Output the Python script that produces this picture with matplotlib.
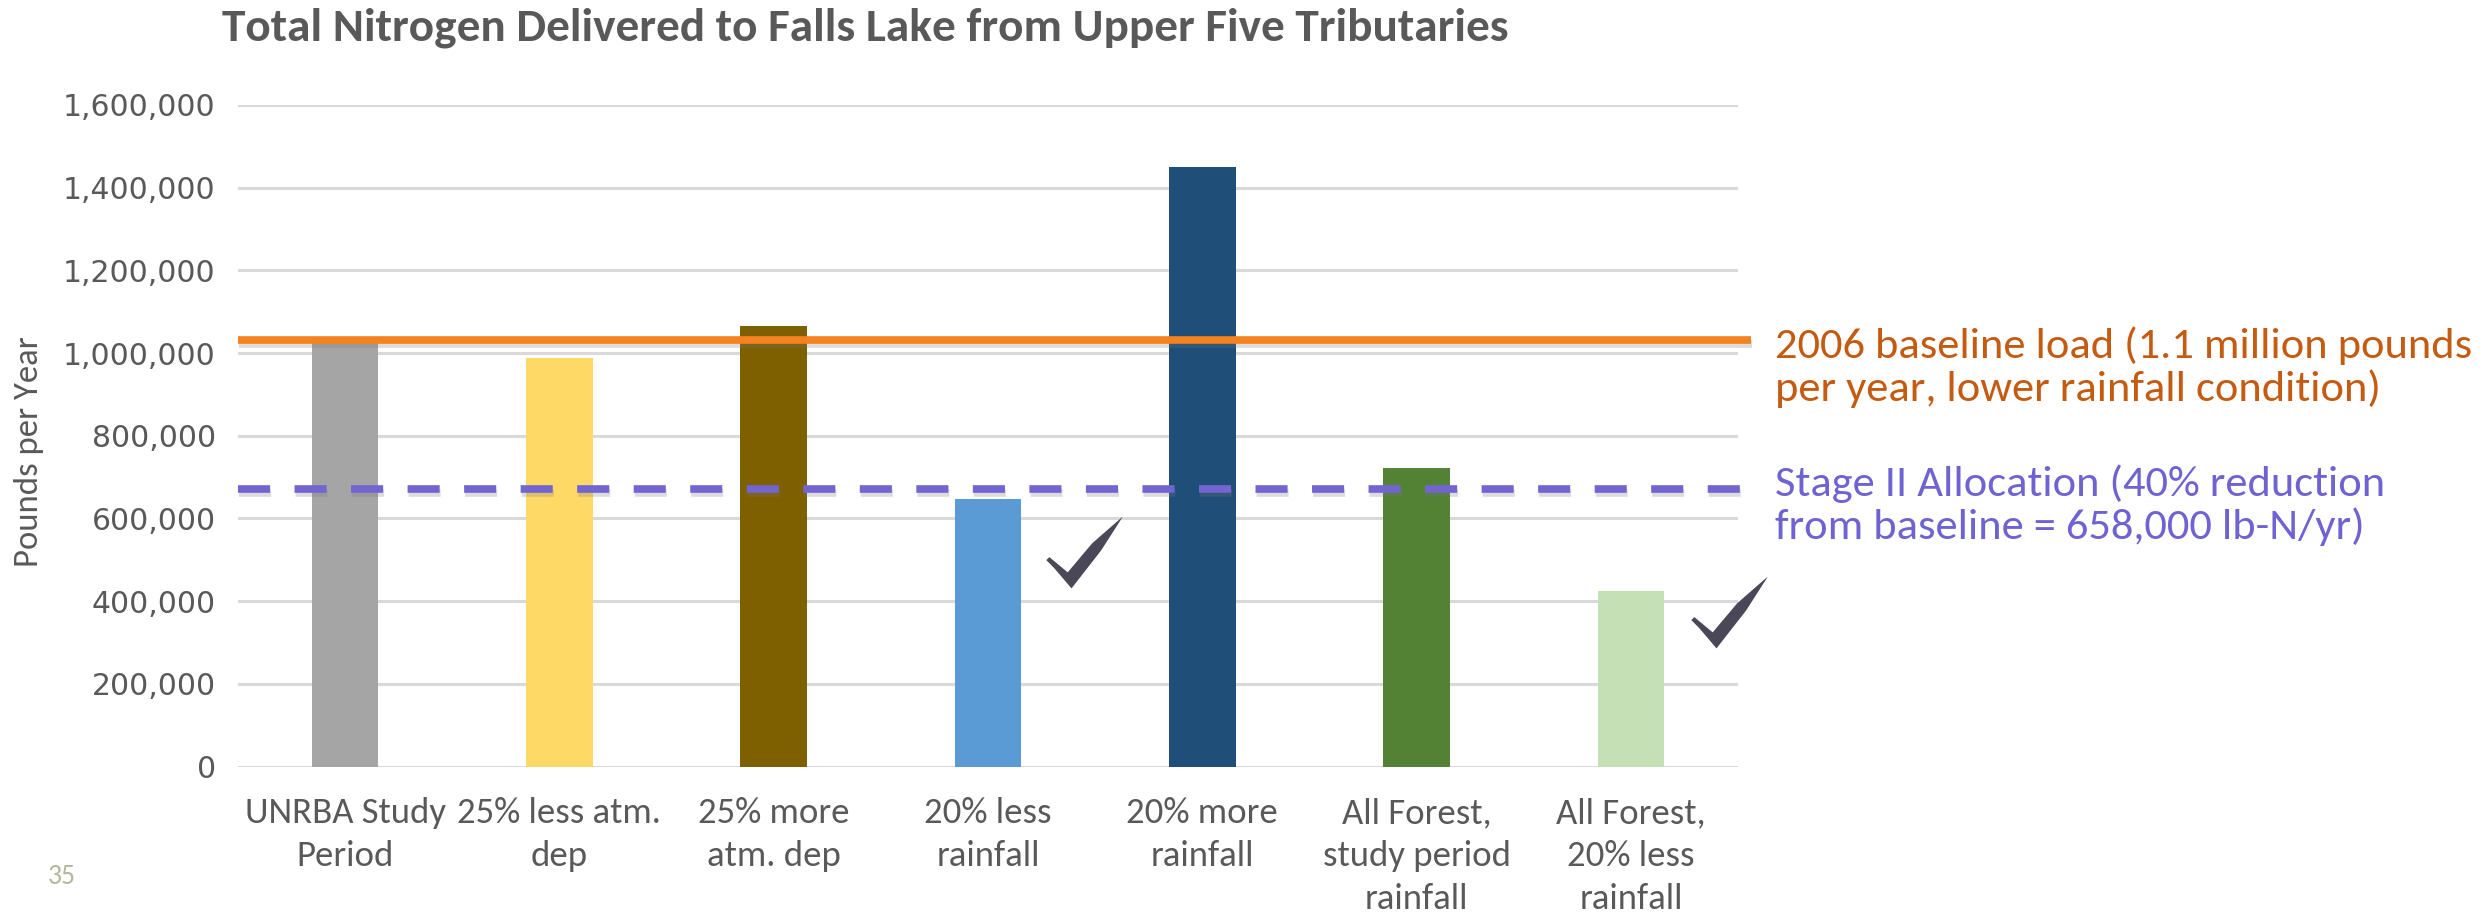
import matplotlib.pyplot as plt
import matplotlib.patheffects as pe
from matplotlib.path import Path
from matplotlib.ticker import FuncFormatter

categories = ["UNRBA Study\nPeriod", "25% less atm.\ndep", "25% more\natm. dep",
              "20% less\nrainfall", "20% more\nrainfall",
              "All Forest,\nstudy period\nrainfall", "All Forest,\n20% less\nrainfall"]
loads = [1025000, 988000, 1065000, 646000, 1450000, 723000, 424000]
bar_colors = ["#A5A5A5", "#FFD966", "#7F6000", "#5B9BD5", "#1F4E79", "#548235", "#C5E0B4"]
baseline_load = 1032000
stage2_load = 671000
check_x = [3.45, 6.46]
check_y = [518000, 375000]

calib = ["Carlito", "DejaVu Sans"]

# hand-drawn style check mark used as a marker (centred on 0)
check = Path([(-0.50, -0.10), (-0.46, -0.06), (-0.22, -0.26), (0.10, 0.12), (0.50, 0.47),
              (0.47, 0.42), (0.22, 0.03), (-0.17, -0.47), (-0.40, -0.20), (-0.50, -0.10)])

fig = plt.figure(figsize=(24.89, 9.14), dpi=100)
ax = fig.add_axes([0.0956, 0.1612, 0.6027, 0.7241])

x = list(range(len(categories)))
ax.bar(x, loads, width=0.31, color=bar_colors, zorder=2)

ax.set_xlim(-0.5, 6.5)
ax.set_ylim(0, 1600000)
ax.set_yticks(range(0, 1600001, 200000))
ax.yaxis.set_major_formatter(FuncFormatter(lambda v, p: f"{int(v):,}"))
ax.grid(axis="y", color="#D9D9D9", linewidth=2.2, zorder=0)
for s in ax.spines.values():
    s.set_visible(False)
ax.tick_params(axis="y", length=0, pad=16, labelsize=21.5, labelcolor="#595959")
ax.tick_params(axis="x", length=0, pad=22)
ax.set_xticks(x)
ax.set_xticklabels(categories, fontsize=26.5, color="#595959", family=calib, linespacing=1.42, va="top")
ax.set_ylabel("Pounds per Year", fontsize=25, color="#595959", family=calib, va="center")
ax.yaxis.set_label_coords(-0.1396, 0.4755)

shadow = [pe.SimpleLineShadow(offset=(0.5, -3), shadow_color="#777777", alpha=0.25), pe.Normal()]
ax.plot([-0.5, 6.56], [baseline_load, baseline_load], color="#F4821F", linewidth=5.5,
        solid_capstyle="butt", clip_on=False, zorder=4, path_effects=shadow)
ax.plot([-0.5, 6.56], [stage2_load, stage2_load], color="#7365D1", linewidth=5.5,
        dashes=(4.2, 3.2), dash_capstyle="butt", clip_on=False, zorder=4, path_effects=shadow)

ax.plot(check_x, check_y, linestyle="none", marker=check, markersize=55,
        color="#4A4858", markeredgewidth=0, zorder=5, clip_on=False)

fig.text(0.3475, 0.970, "Total Nitrogen Delivered to Falls Lake from Upper Five Tributaries",
         fontsize=34, fontweight="bold", color="#595959", family=calib, ha="center", va="center")
fig.text(0.713, 1 - 367 / 914, "2006 baseline load (1.1 million pounds\nper year, lower rainfall condition)",
         fontsize=32, color="#C55A11", family=calib, ha="left", va="center", linespacing=1.12)
fig.text(0.713, 1 - 505 / 914, "Stage II Allocation (40% reduction\nfrom baseline = 658,000 lb-N/yr)",
         fontsize=32, color="#6F62D3", family=calib, ha="left", va="center", linespacing=1.12)
fig.text(0.025, 1 - 876 / 914, "35", fontsize=20, color="#B4B89C", family=calib, ha="center", va="center")

fig.savefig("out.png", dpi=100)
